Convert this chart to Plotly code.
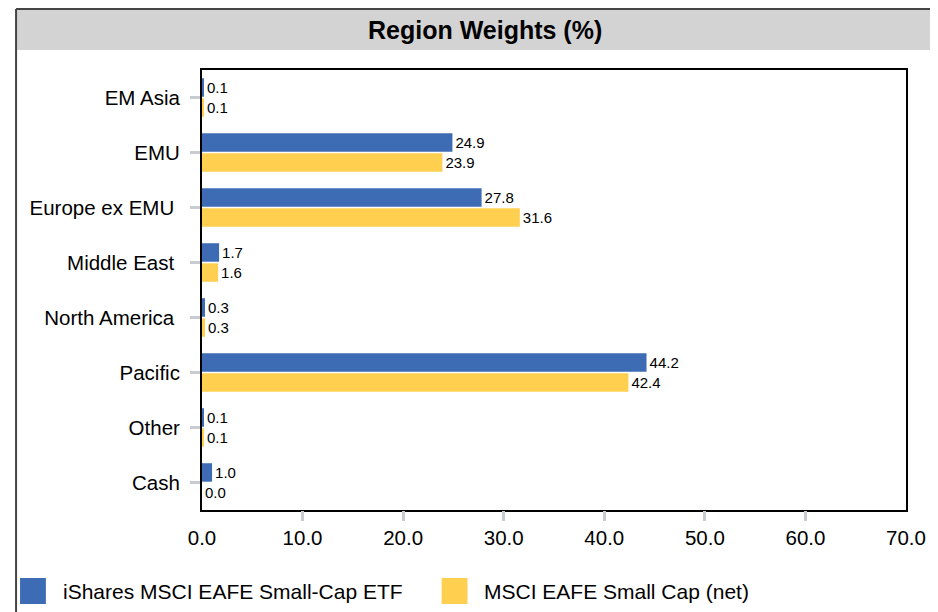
import plotly.graph_objects as go

regions = ["EM Asia", "EMU", "Europe ex EMU", "Middle East",
           "North America", "Pacific", "Other", "Cash"]
fund = [0.1, 24.9, 27.8, 1.7, 0.3, 44.2, 0.1, 1.0]
bench = [0.1, 23.9, 31.6, 1.6, 0.3, 42.4, 0.1, 0.0]
fund_name = "iShares MSCI EAFE Small-Cap ETF"
bench_name = "MSCI EAFE Small Cap (net)"
x_ticks = [0, 10, 20, 30, 40, 50, 60, 70]

BLUE = "#3d6bb4"
YELLOW = "#ffcf50"
FONT = "Liberation Sans, Arial, sans-serif"

# trailing spaces on some labels, as in the original
padded = {"Europe ex EMU", "Middle East", "North America"}
tick_text = [r + "\u00a0" if r in padded else r for r in regions]

# page has an 8px body margin, so the figure starts at (8, 8) on screen
OFF = 8
W, H = 930, 604
L, T = 202 - OFF, 70 - OFF
R, B = W - (910 - OFF), H - (510 - OFF)
pw, ph = W - L - R, H - T - B


def px(x):  # screen pixel -> paper x
    return (x - OFF - L) / pw


def py(y):  # screen pixel -> paper y
    return (H - B - (y - OFF)) / ph


fig = go.Figure()
for vals, name, col in [(fund, fund_name, BLUE), (bench, bench_name, YELLOW)]:
    fig.add_trace(go.Bar(
        y=regions, x=vals, orientation="h", name=name,
        marker=dict(color=col, line=dict(width=0)),
        text=[f"{v:.1f}" for v in vals], textposition="outside",
        textfont=dict(size=15, color="black", family=FONT),
        cliponaxis=False, showlegend=False,
    ))
# empty helper trace so the overlay axis (tick marks only) gets drawn
fig.add_trace(go.Scatter(x=[x_ticks[0]], y=[regions[0]], xaxis="x2", mode="none",
                         hoverinfo="skip", showlegend=False))

fig.update_layout(
    width=W, height=H,
    margin=dict(l=L, r=R, t=T, b=B),
    paper_bgcolor="white", plot_bgcolor="white",
    barmode="group", bargap=0.27, bargroupgap=0.08,
    font=dict(family=FONT, color="black"),
    xaxis=dict(
        range=[0, 70], tickvals=x_ticks, ticktext=[f"{v:.1f}" for v in x_ticks],
        showgrid=False, zeroline=False,
        showline=True, mirror=True, linecolor="black", linewidth=2,
        ticks="", tickfont=dict(size=20.5), ticklabelstandoff=8,
    ),
    # overlay axis only for the grey tick marks (none at 0 and 70)
    xaxis2=dict(
        range=[0, 70], overlaying="x", anchor="y", side="bottom",
        tickvals=x_ticks[1:-1], showticklabels=False,
        showgrid=False, zeroline=False, showline=False,
        ticks="outside", ticklen=10, tickwidth=3, tickcolor="#c8cbd0",
    ),
    yaxis=dict(
        autorange="reversed", tickvals=regions, ticktext=tick_text,
        showgrid=False, zeroline=False,
        showline=True, mirror=True, linecolor="black", linewidth=2,
        ticks="outside", ticklen=10, tickwidth=3, tickcolor="#c8cbd0",
        tickfont=dict(size=20.5), ticklabelstandoff=6,
    ),
)

# title band and outer frame
fig.add_shape(type="rect", xref="paper", yref="paper",
              x0=px(15), x1=px(945), y0=py(50), y1=py(9),
              fillcolor="#d3d3d3", line=dict(width=0), layer="below")
fig.add_shape(type="line", xref="paper", yref="paper",
              x0=px(15), x1=px(945), y0=py(9), y1=py(9),
              line=dict(color="#444444", width=2))
fig.add_shape(type="line", xref="paper", yref="paper",
              x0=px(15), x1=px(15), y0=py(9), y1=py(620),
              line=dict(color="#444444", width=2))
fig.add_annotation(text="<b>Region Weights (%)</b>", xref="paper", yref="paper",
                   x=px(487), y=py(30), xanchor="center", yanchor="middle",
                   showarrow=False,
                   font=dict(size=25, family=FONT, color="black"))

# legend drawn by hand so the swatches match the large squares
for x0, name, col in [(19, fund_name, BLUE), (443, bench_name, YELLOW)]:
    fig.add_shape(type="rect", xref="paper", yref="paper",
                  x0=px(x0), x1=px(x0 + 26), y0=py(604), y1=py(578),
                  fillcolor=col, line=dict(width=0))
    fig.add_annotation(text=name, xref="paper", yref="paper",
                       x=px(x0 + 41), y=py(591), xanchor="left", yanchor="middle",
                       showarrow=False,
                       font=dict(size=21, family=FONT, color="black"))

fig.write_html("out.html")
